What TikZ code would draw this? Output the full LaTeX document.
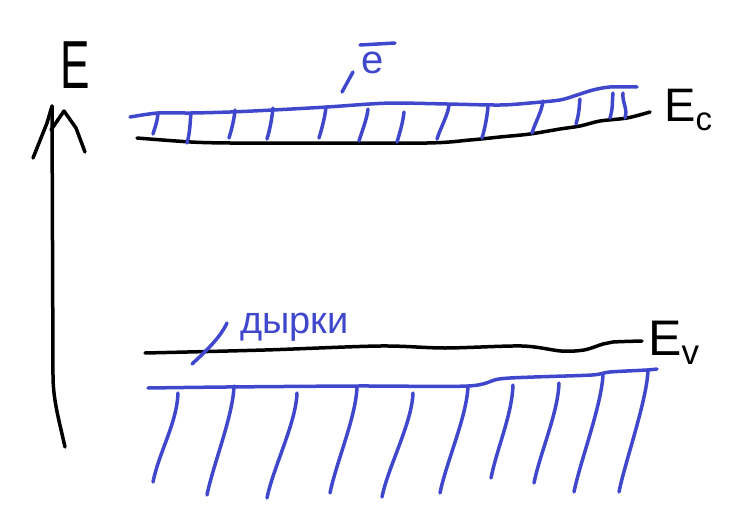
\documentclass[tikz,border=0pt]{standalone}
\usepackage{fontspec}
\setmainfont{Liberation Sans}
\usepackage{tikz}
\usetikzlibrary{calc}
\definecolor{tinta}{RGB}{63,72,204}
\tikzset{
  banda/.style={draw=tinta, line width=3.5pt, line cap=round, line join=round},
  nivel/.style={draw=black, line width=3.5pt, line cap=round, line join=round},
  raya/.style={draw=tinta, line width=3.5pt, line cap=round},
  etiq/.style={inner sep=0pt, anchor=base west}
}

\begin{document}
\begin{tikzpicture}[x=1pt, y=-1pt]
    \useasboundingbox (0,0) rectangle (731,522);

    % ==========================================
    % 1. Eje de energia
    % ==========================================
    \coordinate (ejeabajo) at (65,447);
    \coordinate (ejearriba) at (52,106);
    \draw[nivel] (ejeabajo) .. controls (59,420) and (53,400) .. (53,375) -- (ejearriba);
    % punta de flecha (a mano)
    \draw[nivel] (33,158) -- (47,123) -- (ejearriba);
    \draw[nivel] (51,130) -- (64,111) -- (76,128) -- (85,152);
    \node[etiq, font=\fontsize{68}{68}\selectfont, transform shape, xscale=0.65] (labE) at (60,88) {E};

    % ==========================================
    % 2. Banda de conduccion
    % ==========================================
    \draw[banda] plot[smooth] coordinates {(130,117) (158,113) (191,113) (230,112) (273,110)
        (327,107) (370,104) (397,103) (447,104) (500,105) (530,103) (560,100) (577,95)
        (593,90) (610,87) (637,87)};
    \draw[nivel] plot[smooth] coordinates {(137,138) (191,142) (230,143) (300,143) (427,143)
        (470,140) (500,137) (530,134) (560,129) (580,126) (600,121) (627,118) (650,112)};

    % rayado entre Ec y el borde azul
    \foreach \xa/\ya/\xb/\yb in {
        158/113/153/134, 191/113/187/143, 235/110/229/138, 273/108/267/139,
        326/107/319/138, 368/109/359/141, 404/112/397/142, 449/105/437/139,
        488/107/482/138, 543/101/532/133, 580/99/576/124, 613/93/610/118,
        623/93/625/118
    } {
        \draw[raya] (\xa,\ya) .. controls +(-1,10) and +(3,-10) .. (\xb,\yb);
    }

    \node[etiq, font=\fontsize{47}{47}\selectfont] (Ec) at (664,121) {E\textsubscript{c}};

    % electron
    \node[etiq, text=tinta, font=\fontsize{40}{40}\selectfont] (elec) at (361,73) {e};
    \draw[raya] (360,45) -- (395,43);
    \coordinate (epunta) at (342,92);
    \draw[raya] (epunta) -- (353,72);

    % ==========================================
    % 3. Banda de valencia
    % ==========================================
    \draw[nivel] plot[smooth] coordinates {(145,353) (265,350) (380,346) (445,348) (522,346)
        (561,351) (584,350) (603,344) (613,342) (642,341)};
    \draw[banda] plot[smooth] coordinates {(148,388) (226,387) (357,386) (468,386)
        (499,379) (534,377) (592,375) (610,372) (647,370) (657,369)};

    % rayado debajo de Ev
    \foreach \xa/\ya/\xb/\yb in {
        178/393/153/482, 234/386/207/495, 297/393/267/498, 357/387/330/493,
        413/393/382/497, 468/386/440/493, 513/385/491/478, 559/383/534/483,
        603/374/574/492, 648/370/619/492
    } {
        \draw[raya] (\xa,\ya) .. controls +(-1,30) and +(6,-30) .. (\xb,\yb);
    }

    \node[etiq, font=\fontsize{50}{50}\selectfont] (Ev) at (648,355) {E\textsubscript{v}};

    % huecos
    \node[etiq, text=tinta, font=\fontsize{38}{38}\selectfont] (huecos) at (240,333) {дырки};
    \coordinate (hpunta) at (192,364);
    \draw[raya] (hpunta) .. controls (205,352) and (220,338) .. (227,323);

\end{tikzpicture}
\end{document}
